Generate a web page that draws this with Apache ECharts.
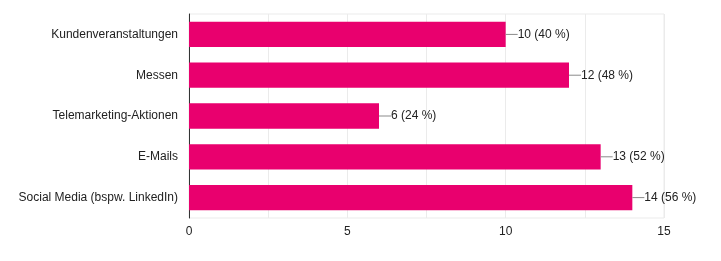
<!DOCTYPE html>
<html>
<head>
<meta charset="utf-8">
<script src="https://cdn.jsdelivr.net/npm/echarts@6/dist/echarts.min.js"></script>
<style>html,body{margin:0;padding:0;background:#fff}#c{width:721px;height:261px}</style>
</head>
<body>
<div id="c"></div>
<script>
const categories = ["Kundenveranstaltungen", "Messen", "Telemarketing-Aktionen", "E-Mails", "Social Media (bspw. LinkedIn)"];
const counts = [10, 12, 6, 13, 14];
const percents = [40, 48, 24, 52, 56];
const tickLabels = [0, 5, 10, 15];

const chart = echarts.init(document.getElementById('c'), null, {renderer: 'canvas'});
chart.setOption({
  animation: false,
  textStyle: {fontFamily: 'Liberation Sans, Arial, sans-serif'},
  grid: {left: 189, top: 14, right: 57, bottom: 43, show: true, borderColor: '#ebebeb', borderWidth: 1},
  xAxis: {
    type: 'value', min: 0, max: 15, interval: 2.5,
    axisLine: {show: false}, axisTick: {show: false},
    splitLine: {lineStyle: {color: '#ebebeb', width: 1}},
    axisLabel: {
      color: '#222', fontSize: 12, margin: 8,
      formatter: v => tickLabels.indexOf(v) >= 0 ? String(v) : ''
    }
  },
  yAxis: {
    type: 'category', data: categories, inverse: true,
    axisLine: {show: true, lineStyle: {color: '#333', width: 1}},
    axisTick: {show: false},
    axisLabel: {color: '#222', fontSize: 12, margin: 11}
  },
  series: [{
    type: 'bar',
    data: counts,
    barCategoryGap: '38%',
    itemStyle: {color: '#e9006e'},
    label: {
      show: true, position: 'right', distance: 0,
      formatter: p => '{l|}{t|' + counts[p.dataIndex] + ' (' + percents[p.dataIndex] + ' %)}',
      rich: {
        l: {width: 12, height: 1, backgroundColor: '#8a8a8a', verticalAlign: 'middle'},
        t: {color: '#222', fontSize: 12, fontFamily: 'Liberation Sans, Arial, sans-serif', verticalAlign: 'middle'}
      }
    }
  }]
});
</script>
</body>
</html>
